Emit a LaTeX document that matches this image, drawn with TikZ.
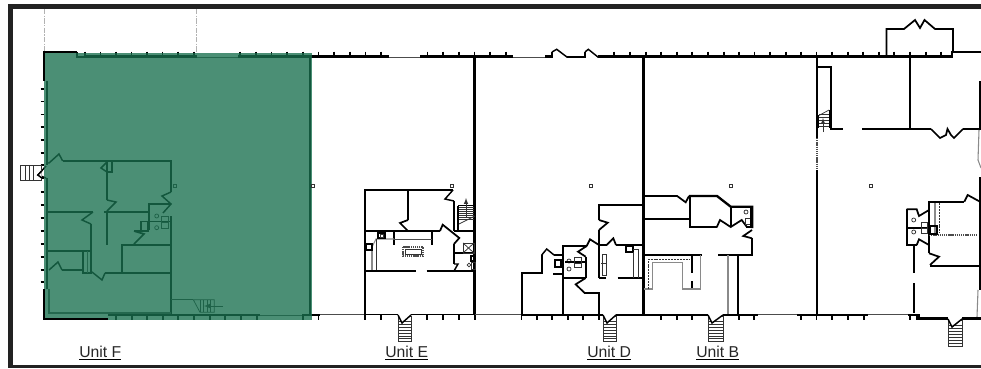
\documentclass[tikz,border=0pt]{standalone}
\usepackage{fontspec}
\setmainfont{Liberation Sans}
\definecolor{framec}{HTML}{222222}
\definecolor{unitgreen}{rgb}{0.10,0.44,0.31}
\definecolor{planegrey}{HTML}{8A8A8A}
\tikzset{
  wall/.style={draw=black,line width=1.75pt,line join=miter},
  heavywall/.style={draw=black,line width=2pt},
  door/.style={draw=black,line width=1.1pt,line join=miter},
  thinline/.style={draw=black!70,line width=0.6pt},
  greyline/.style={draw=planegrey,line width=0.8pt},
  hatchline/.style={draw=black!70,line width=0.9pt,dash pattern=on 1pt off 0.6pt},
  tick/.style={draw=black,line width=1.4pt},
  fixture/.style={draw=black!80,line width=0.55pt},
  darkfixture/.style={draw=black,line width=1pt},
  unitlabel/.style={inner sep=0pt,anchor=base west,font=\fontsize{11.8pt}{13pt}\selectfont,text=black!85},
  ulinestyle/.style={draw=black,line width=0.6pt},
  smallbox/.style={draw=black!80,line width=0.7pt,fill=white},
  guide/.style={draw=black!30,line width=0.5pt,dash pattern=on 4pt off 1pt on 1pt off 1pt}
}
\newcommand{\stairsdown}[4]{% x1 x2 ytop ybottom
  \draw[fixture,line width=0.75pt] (#1,#3) rectangle (#2,#4);
  \foreach \t in {1,...,7}{\draw[fixture] (#1,{#3+(#4-#3)*(\t+1)/9}) -- (#2,{#3+(#4-#3)*(\t+1)/9});}
  \draw[door,fill=white] (#1,#3-1) -- ({#1+4},#3+7) -- (#2,#3-1);
}
\begin{document}
\begin{tikzpicture}[x=0.75pt,y=-0.75pt]
\useasboundingbox (0,0) rectangle (981,368);
\fill[white] (0,0) rectangle (981,368);

% --- guides above the building
\draw[guide] (44,9) -- (44,52);
\draw[guide] (196.5,9) -- (196.5,52);

% --- top wall and ticks
\foreach \x in {85,100.5,116,131.5,147,162.5,178,194,240,256,271.5,287,303,318.5,334,350,365.5,381,427.5,443,459,474.5,490,505.7,614,630,646,661,677,692,708,724,739,754.5,770,786,801,816.5,832,848,863,879,894,910,926,941}
  {\draw[tick] (\x,51.5) -- (\x,57);}
\draw[wall] (77,52) -- (77,57) -- (87,57) -- (87,56.5) -- (197,56.5);
\draw[thinline] (197,57) -- (238,57);
\draw[wall] (238,56.5) -- (389,56.5);
\draw[thinline] (389,57) -- (420,57);
\draw[wall] (420,56.5) -- (513,56.5);
\draw[thinline] (513,57) -- (545,57);
\draw[wall] (545,56.5) -- (552,56.5) -- (552,52);
\draw[door] (552,52) -- (556.7,49.3) -- (567.3,57.3);
\draw[wall] (567.3,57.3) -- (585,57.3) -- (585,52);
\draw[door] (585,52) -- (588.3,49.3) -- (598.3,57.3);
\draw[wall] (598.3,56.5) -- (952,56.5) -- (952,52) -- (981,52);
\draw[door,line width=1.3pt] (886.5,56) -- (886.5,29) -- (904,29) -- (915,20) -- (920,28) -- (924.5,20) -- (935,29) -- (953,29) -- (953,52);

% --- Unit F plan (under the tint)
\draw[wall] (47,81) -- (47,165);
\draw[wall] (47,178) -- (47,289);
\draw[door] (47,163) -- (49,163) -- (59,154) -- (62.7,161);
\draw[wall] (62.7,161) -- (171,161) -- (171,192);
\draw[door] (171,192) -- (162,196) -- (171,204) -- (163,213);
\draw[wall] (171,216) -- (171,314);
\draw[wall] (107,161) -- (107,200);
\draw[door] (107,200) -- (116,202) -- (107,211);
\draw[wall] (107,212) -- (107,245);
\draw[wall] (107,172) -- (112,172) -- (112,161);
\draw[door] (107,162) -- (101,168) -- (107,172);
\draw[wall] (104,212) -- (149,212);
\draw[wall] (149,230) -- (149,204) -- (171,204);
\draw[door,line width=1.3pt] (134,231) -- (149,231);
\draw[door,line width=1.3pt] (134,231) -- (144,234) -- (134,244);
\draw[wall] (171,245) -- (122,245) -- (122,273);
\draw[wall] (171,273) -- (105,273);
\draw[door] (105,273) -- (102,280) -- (92,272);
\draw[wall] (91,224) -- (91,273) -- (83,273) -- (83,251);
\draw[wall] (47,251) -- (91,251);
\draw[wall] (47,212) -- (93,212);
\draw[door] (93,212) -- (82,220) -- (91,224);
\draw[door] (49,270) -- (58,262) -- (62,270);
\draw[wall,line width=1.4pt] (62,270) -- (83,270);
\draw[thinline] (87,251) -- (87,273);
\draw[thinline,line width=0.8pt] (49,289) -- (49,313) -- (171,313);
\draw[fixture] (171,299) -- (193,299);
\draw[fixture] (193.3,299.7) -- (200,312.3) -- (214.3,312.3) -- (214.3,299.7) -- cycle;
\foreach \x in {200,203.5,207,210.5}{\draw[fixture] (\x,300) -- (\x,312);}
\draw[fixture,-latex] (223,306) -- (204,306);
\draw[fixture] (156.7,216) circle (2);
\draw[fixture] (156.7,227.7) circle (2);
\draw[darkfixture] (147,221.7) -- (171,221.7);
\draw[fixture] (161.7,216) rectangle (168,222);
\draw[fixture] (161.7,222) rectangle (168,228);
\draw[darkfixture] (141,221.7) rectangle (148,231);
% left stairs to the door of Unit F
\draw[door] (46,166) -- (38,175) -- (46,178);
% bottom wall
\foreach \x in {116,132,147,163,178,194,210,225,241,257,303,318.5}
  {\draw[tick] (\x,314.5) -- (\x,320);}
\draw[wall] (108,315) -- (260,315);
\draw[thinline] (260,315) -- (302,315);
\draw[wall] (302,315) -- (320,315);
\draw[heavywall] (310,56.5) -- (310,315);
\draw[smallbox] (173.5,184.2) rectangle (176.5,187.2);

% --- green tint
\fill[unitgreen,fill opacity=0.78] (44,53) rectangle (311.5,319.5);

% --- parts of Unit F lying outside the tint or on top of it
\draw[wall,line width=1.5pt] (77,52) -- (43.5,52) -- (43.5,81);
\draw[wall,line width=1.5pt] (43.5,289) -- (43.5,319.3) -- (108,319.3);
\foreach \y in {89,101.5,114.5,127,140,153,165,178,192,205,218,231,244,257,270,282}
  {\draw[tick] (40.5,\y) -- (44,\y);}
\draw[fixture,line width=0.7pt] (20.7,165.7) rectangle (41.7,180.7);
\foreach \x in {25,29,33}{\draw[fixture,line width=0.7pt] (\x,165.7) -- (\x,180.7);}
\draw[door,fill=white] (41.7,171) -- (38,175) -- (41.7,178);
\draw[smallbox] (311,184.2) rectangle (314,187.2);

% --- small posts
\foreach \x in {451.7,591,731,871}{\draw[smallbox] (\x-1.5,184.2) rectangle (\x+1.5,187.2);}

% --- dividers
\draw[heavywall] (474.7,57) -- (474.7,315);
\draw[heavywall] (643.3,57) -- (643.3,315);
\draw[heavywall] (817,57) -- (817,138);
\draw[hatchline,line width=1.4pt] (817,138) -- (817,170);
\draw[heavywall] (817,170) -- (817,315);

% --- right building section
\draw[wall] (817,67) -- (831,67) -- (831,129) -- (843,129);
\draw[wall] (862,129) -- (931,129);
\draw[door,line width=1.3pt] (931,129) -- (940,138) -- (946,135) -- (947.5,129) -- (951,135) -- (954,138) -- (963,129);
\draw[wall] (963,129) -- (980,129) -- (980,81);
\draw[heavywall] (910,57) -- (910,129);
\draw[greyline] (979,130) -- (978,160) -- (981,168);
\draw[heavywall] (980,177) -- (980,290);
\draw[greyline] (978,290) -- (977,317);
\draw[fixture] (818,116) -- (829,110);
\foreach \y in {114,117,120,123,126}{\draw[fixture] (819,\y) -- (829,\y);}
\draw[heavywall,line width=1.1pt] (818.5,115) -- (818.5,128);
\draw[heavywall,line width=1.1pt] (829.5,110) -- (829.5,128);
\draw[fixture,-latex] (823,132) -- (823,118);

% --- Unit E
\draw[wall] (365,314) -- (365,190) -- (453,190);
\draw[door] (453,190) -- (445,199) -- (454,201);
\draw[wall] (454,201) -- (454,231);
\draw[wall] (408,190) -- (408,220);
\draw[door,line width=1.3pt] (408,220) -- (400,223) -- (408,231);
\draw[wall] (365,231) -- (440,231);
\draw[door,line width=1.3pt] (440,231) -- (442.7,224.7) -- (459.3,238) -- (454,244);
\draw[wall] (454,231) -- (475,231);
\draw[wall] (454,244) -- (454,264);
\draw[wall] (454,253) -- (475,253);
\draw[door] (454,264) -- (458,264) -- (454,271);
\draw[wall] (365,271.3) -- (416,271.3);
\draw[wall] (426.7,271.3) -- (475,271.3);
\draw[wall,line width=1.4pt] (394,231) -- (394,245);
\draw[wall,line width=1.4pt] (431.7,231) -- (431.7,245);
\draw[thinline] (394,239) -- (431.7,239);
\draw[darkfixture] (458,205.7) -- (475,205.7);
\foreach \y in {207.5,209.5,211.5,213.5,215.5,217.5,219.5}{\draw[fixture] (459,\y) -- (474,\y);}
\draw[fixture] (459,224) -- (475,216);
\draw[darkfixture] (458,206) -- (458,231);
\draw[fixture,-latex] (466,218) -- (466,198);
\draw[hatchline] (403,247) rectangle (423,256);
\draw[fixture] (405,249) rectangle (421,254);
\draw[greyline] (372,247) -- (376,239) -- (394,239);
\draw[greyline] (372,247) -- (372,270);
\draw[fixture] (376,239) -- (376,270);
\draw[darkfixture] (378,233) rectangle (385,238);
\draw[fixture] (380,234) rectangle (383,237);
\draw[darkfixture,line width=1.2pt] (366,244) rectangle (372,250);
\draw[fixture] (463,243) rectangle (474,253);
\draw[fixture] (463,243) -- (474,253) (474,243) -- (463,253);
\draw[darkfixture] (471,256) rectangle (475,261);
\draw[fixture] (469,265) circle (1.8);
\draw[fixture] (471,262) rectangle (475,269);

% --- Unit D
\draw[wall] (521.7,315) -- (521.7,273) -- (541.7,273) -- (541.7,255);
\draw[door] (541.7,255) -- (546.7,249) -- (554,255);
\draw[wall] (554,255) -- (563,255);
\draw[wall] (553,274) -- (563,274);
\draw[wall] (563.3,315) -- (563.3,246) -- (586.7,246);
\draw[door,line width=1.3pt] (586.7,246) -- (590,239.3) -- (599,245);
\draw[wall] (599,278) -- (599,230);
\draw[door,line width=1.3pt] (599,230) -- (607.7,222.7) -- (599,220);
\draw[wall] (599,220) -- (599,205) -- (643,205);
\draw[wall] (599,245) -- (606.7,245);
\draw[door,line width=1.3pt] (606.7,245) -- (613.3,238.3) -- (616,245);
\draw[wall] (616,245) -- (643,245);
\draw[wall] (599,278) -- (605.7,278);
\draw[wall] (617.7,278) -- (643,278);
\draw[door,line width=1.3pt] (586.7,246) -- (578,251.7) -- (585.7,256.7);
\draw[wall] (585.7,256.7) -- (585.7,278);
\draw[wall] (563.3,278) -- (585.7,278);
\draw[door,line width=1.3pt] (585.7,278) -- (575.7,284.3) -- (584.3,292.7);
\draw[wall] (584.3,292.7) -- (599,292.7) -- (599,315);
\draw[fixture] (569,261) circle (2);
\draw[fixture] (569,269) circle (2);
\draw[darkfixture,line width=1.2pt] (565,262) -- (586,262);
\draw[fixture] (574,257) rectangle (581,263);
\draw[fixture] (574,263) rectangle (581,267);
\draw[darkfixture] (555,260) rectangle (561,267);
\draw[fixture] (602,254) rectangle (606,275);
\draw[fixture] (601,263) -- (606,263);
\draw[darkfixture] (626,246) rectangle (633,252);
\draw[fixture] (633,249) -- (638,249) -- (638,278);
\draw[fixture] (633,252) -- (633,278);

% --- Unit B
\draw[wall] (643,195.7) -- (676.7,195.7);
\draw[door,line width=1.3pt] (676.7,195.7) -- (685.7,202.3) -- (689,196);
\draw[wall] (689,196) -- (717,196) -- (730.7,206.7) -- (752.3,206.7) -- (752.3,228);
\draw[wall] (730.7,206.7) -- (730.7,227);
\draw[wall] (690,196) -- (690,227.3) -- (716.7,227.3);
\draw[door,line width=1.3pt] (716.7,227.3) -- (720,220) -- (730.7,227) -- (741.7,220) -- (746.7,226.7);
\draw[wall] (746,227) -- (752.3,227);
\draw[door,line width=1.3pt] (752,230) -- (743.3,236) -- (752,238.3);
\draw[wall] (752,238) -- (752,255) -- (718,255);
\draw[wall] (643,219) -- (690,219);
\draw[wall] (643,255) -- (701.7,255);
\draw[wall] (691.7,255) -- (691.7,273);
\draw[wall,line width=1.3pt] (691.7,281) -- (691.7,289);
\draw[wall] (737.7,255) -- (737.7,315);
\draw[greyline] (728,255) -- (728,315);
\draw[greyline] (700.7,255) -- (700.7,289) -- (682.7,289) -- (682.7,262.7) -- (652.3,262.7) -- (652.3,289) -- (644,289);
\draw[fixture,dash pattern=on 1.5pt off 0.7pt] (648.3,289) -- (648.3,259) -- (690,259);
\draw[fixture] (746,212) circle (2);
\draw[fixture] (745,218) rectangle (750,224);
\draw[darkfixture] (750.5,206.7) -- (750.5,226);

% --- right-hand rooms
\draw[door,line width=1.3pt] (906.7,209.3) -- (916.7,209.3) -- (919,216) -- (929,210);
\draw[wall] (906.7,209.3) -- (906.7,245) -- (916.7,245);
\draw[door,line width=1.3pt] (916.7,245) -- (919,239.3) -- (929,245);
\draw[wall] (929.3,253.3) -- (929.3,201.7) -- (964.3,201.7);
\draw[door,line width=1.3pt] (964.3,201.7) -- (967.7,195) -- (980,201.7);
\draw[door,line width=1.3pt] (929,253.3) -- (939,256.7) -- (930,265);
\draw[wall] (930,265.7) -- (980,265.7);
\draw[hatchline] (929,235) -- (978,235);
\draw[greyline] (935,203) -- (935,233);
\draw[fixture,dash pattern=on 1.5pt off 0.7pt] (939,203) -- (939,233);
\draw[wall] (914,245) -- (914,273.3);
\draw[wall] (914,283.3) -- (914,313.3);
\draw[fixture] (913.7,220) circle (2);
\draw[fixture] (913.7,232) circle (2);
\draw[darkfixture,line width=1.2pt] (908,228) -- (929,228);
\draw[fixture] (921,222) rectangle (927,228);
\draw[fixture] (921,228) rectangle (927,233);
\draw[darkfixture] (930,226) rectangle (937,234);

% --- bottom wall east of Unit F
\draw[thinline,line width=0.7pt] (320,314) -- (364,314);
\foreach \x in {365,381,427,443,459,474.7,521.5,537,552,568,583,599,661,677,692,739,754,801,816.5,832,848,864,910,917}
  {\draw[tick] (\x,314) -- (\x,320);}
\draw[wall,line width=1.4pt] (364,314.5) -- (398,314.5);
\draw[wall,line width=1.4pt] (411,314.5) -- (475,314.5);
\draw[thinline,line width=0.7pt] (475,314) -- (521,314);
\draw[wall] (521,315) -- (603,315);
\draw[wall] (616,315) -- (708,315);
\draw[wall] (723,315) -- (758,315);
\draw[thinline,line width=0.7pt] (758,314.5) -- (797,314.5);
\draw[wall] (797,315) -- (868,315);
\draw[thinline,line width=0.7pt] (868,314.5) -- (908,314.5);
\draw[wall] (908,315) -- (919,315) -- (919,318.5) -- (948,318.5);
\draw[wall] (962,318.5) -- (981,318.5);

% --- stairs
\stairsdown{398}{411}{316}{341.7}
\stairsdown{603}{616}{316}{341.7}
\stairsdown{708}{723}{316}{341.7}
\stairsdown{948}{962}{320}{346}

% --- labels
\node[unitlabel] (uf) at (79,357.8) {Unit F};
\node[unitlabel] (ue) at (385,357.8) {Unit E};
\node[unitlabel] (ud) at (587,357.8) {Unit D};
\node[unitlabel] (ub) at (696,357.8) {Unit B};
\foreach \n in {uf,ue,ud,ub}
  {\draw[ulinestyle] ([yshift=-1.4pt]\n.base west) -- ([yshift=-1.4pt]\n.base east);}

% --- frame
\fill[framec] (8,4) rectangle (981,9);
\fill[framec] (8,4) rectangle (13,368);
\fill[framec] (8,365) rectangle (981,368);
\end{tikzpicture}
\end{document}
